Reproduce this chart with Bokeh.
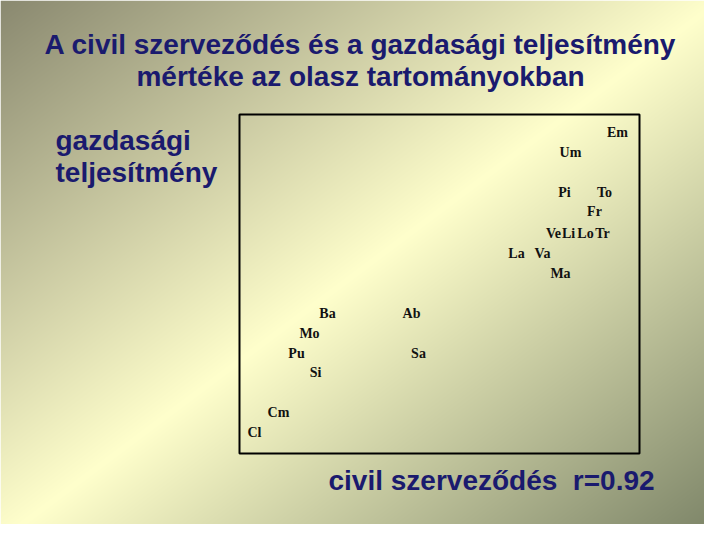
import numpy as np
from bokeh.plotting import figure
from bokeh.models import Range1d, Label, ColumnDataSource
from bokeh.core.properties import value
from bokeh.embed import file_html
from bokeh.resources import INLINE

# ---- data (box scaled 0..100 on both axes) ----
regions = ["Em", "Um", "Pi", "To", "Fr", "Ve", "Li", "Lo", "Tr", "La",
           "Va", "Ma", "Ba", "Ab", "Mo", "Pu", "Sa", "Si", "Cm", "Cl"]
civil = [94.5, 82.75, 81.25, 91.25, 88.75, 78.5, 82.25, 86.5, 90.75, 69.25,
         75.75, 80.25, 22.0, 43.0, 17.5, 14.25, 44.75, 19.0, 9.75, 3.75]
economy = [94.7, 88.8, 77.0, 77.0, 71.4, 64.9, 64.9, 64.9, 64.9, 59.0,
           59.0, 53.1, 41.3, 41.3, 35.4, 29.5, 29.5, 23.9, 12.1, 6.2]

title_lines = ["A civil szerveződés és a gazdasági teljesítmény",
               "mértéke az olasz tartományokban"]
y_label_lines = ["gazdasági", "teljesítmény"]
x_label = "civil szerveződés\u00a0\u00a0r=0.92"

W, H = 704, 524
# box in page pixels
bx0, bx1, by_top, by_bot = 239, 639, 114, 453
sx = (bx1 - bx0) / 100.0
sy = (by_bot - by_top) / 100.0
x_start = -bx0 / sx
x_end = (W - bx0) / sx
y_end = 100 + by_top / sy
y_start = -(H - by_bot) / sy

p = figure(width=W, height=H, output_backend="svg", toolbar_location=None,
           x_range=Range1d(x_start, x_end), y_range=Range1d(y_start, y_end),
           min_border=0, min_border_left=0, min_border_right=0,
           min_border_top=0, min_border_bottom=0)
p.xaxis.visible = False
p.yaxis.visible = False
p.grid.visible = False
p.outline_line_color = None
p.background_fill_color = None
p.border_fill_color = None

# ---- gradient background ----
light = np.array([255, 255, 204], dtype=float)
dark_tl = np.array([138, 137, 112], dtype=float)
dark_br = np.array([122, 130, 102], dtype=float)
cols = np.arange(W) + 0.5
rows = np.arange(H)
ref_y = (H - 1 - rows) + 0.5
X, Y = np.meshgrid(cols, ref_y)
d = X / 720.0 + Y / 540.0 - 1.0
t = np.clip(np.abs(d), 0, 1)[..., None]
dark = np.where((d < 0)[..., None], dark_tl, dark_br)
rgb = light * (1 - t) + dark * t
img = np.empty((H, W), dtype=np.uint32)
view = img.view(dtype=np.uint8).reshape((H, W, 4))
view[..., 0] = rgb[..., 0].astype(np.uint8)
view[..., 1] = rgb[..., 1].astype(np.uint8)
view[..., 2] = rgb[..., 2].astype(np.uint8)
view[..., 3] = 255
p.image_rgba(image=[img], x=x_start, y=y_start, dw=x_end - x_start, dh=y_end - y_start)

# ---- box ----
p.quad(left=[0], right=[100], bottom=[0], top=[100], fill_color=None,
       line_color="black", line_width=2)

# ---- region labels ----
src = ColumnDataSource(dict(x=civil, y=economy, t=regions))
p.text(x="x", y="y", text="t", source=src, text_align="center",
       text_baseline="middle", text_font=value("Liberation Serif"),
       text_font_style="bold", text_font_size="14px", text_color="#111111")

navy = "#1a1a6e"
def lab(txt, rx, ry, align):
    p.add_layout(Label(x=rx, y=H - ry, x_units="screen", y_units="screen",
                       text=txt, text_align=align, text_baseline="middle",
                       text_font="Liberation Sans", text_font_style="bold",
                       text_font_size="28px", text_color=navy))

lab(title_lines[0], 360, 44, "center")
lab(title_lines[1], 360, 76, "center")
lab(y_label_lines[0], 55, 140, "left")
lab(y_label_lines[1], 55, 172, "left")
lab(x_label, 328, 480, "left")

open("out.html", "w").write(file_html(p, INLINE))
